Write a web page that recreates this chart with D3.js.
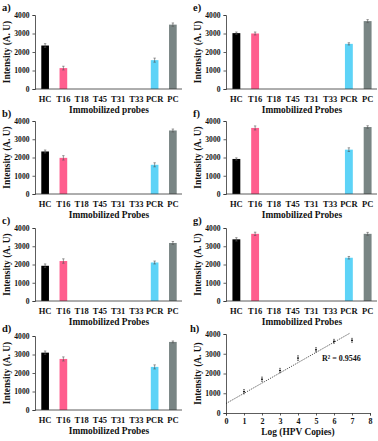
<!DOCTYPE html>
<html>
<head>
<meta charset="utf-8">
<script src="https://cdn.jsdelivr.net/npm/d3@7"></script>
<style>
  body { margin: 0; background: #fff; }
  svg text { font-family: "Liberation Serif", "Times New Roman", serif; font-weight: bold; }
</style>
</head>
<body>
<div id="chart"></div>
<script>
var categories = ["HC", "T16", "T18", "T45", "T31", "T33", "PCR", "PC"];
var yTicks = [0, 1000, 2000, 3000, 4000];

var valuesA = [2350, 1130, 0, 0, 0, 0, 1560, 3480];
var errorsA = [100, 100, 0, 0, 0, 0, 110, 90];
var valuesB = [2330, 1980, 0, 0, 0, 0, 1600, 3480];
var errorsB = [80, 120, 0, 0, 0, 0, 110, 80];
var valuesC = [1930, 2190, 0, 0, 0, 0, 2110, 3180];
var errorsC = [100, 120, 0, 0, 0, 0, 80, 80];
var valuesD = [3100, 2760, 0, 0, 0, 0, 2330, 3680];
var errorsD = [90, 110, 0, 0, 0, 0, 110, 50];
var valuesE = [3020, 3000, 0, 0, 0, 0, 2440, 3670];
var errorsE = [60, 80, 0, 0, 0, 0, 60, 80];
var valuesF = [1920, 3620, 0, 0, 0, 0, 2430, 3670];
var errorsF = [60, 110, 0, 0, 0, 0, 100, 70];
var valuesG = [3380, 3680, 0, 0, 0, 0, 2370, 3680];
var errorsG = [90, 90, 0, 0, 0, 0, 70, 80];

var copiesLog = [1, 2, 3, 4, 5, 6, 7];
var intensityH = [1080, 1710, 2150, 2780, 3200, 3630, 3680];
var errorsH = [110, 110, 110, 120, 110, 100, 100];
var xTicksH = [0, 1, 2, 3, 4, 5, 6, 7, 8];
var trendX = [0, 6.9];
var trendY = [480, 4050];
var r2Label = "R² = 0.9546";

var barColors = ["#000000", "#ff5e8e", "#000000", "#000000", "#000000", "#000000", "#5dd3f7", "#798584"];

var svg = d3.select("#chart").append("svg")
    .attr("width", 378)
    .attr("height", 441);

function yAxisParts(g, y, axisX, top, bottom, titleX) {
    var ax = g.append("g")
        .attr("transform", `translate(${axisX},0)`)
        .call(d3.axisLeft(y).tickValues(yTicks).tickFormat(d3.format("d")).tickSize(2.5).tickPadding(3));
    ax.select(".domain").attr("stroke", "#333").attr("stroke-width", 0.8);
    ax.selectAll(".tick line").attr("stroke", "#333").attr("stroke-width", 0.8);
    ax.selectAll("text").attr("font-size", "7.6px").attr("fill", "#111");

    g.append("text")
        .attr("transform", `translate(${titleX},${(top + bottom) / 2}) rotate(-90)`)
        .attr("text-anchor", "middle")
        .attr("dy", "0.35em")
        .attr("font-size", "9.4px")
        .attr("fill", "#111")
        .text("Intensity (A. U)");
}

function barPanel(label, values, errors, title, left, right, top, bottom) {
    var g = svg.append("g");
    var axisX = left - 1;

    var x = d3.scaleBand()
        .domain(categories)
        .range([left, right])
        .paddingInner(0.58)
        .paddingOuter(0.29);

    var y = d3.scaleLinear()
        .domain([0, 4000])
        .range([bottom, top]);

    var data = categories.map((c, i) => ({c: c, v: values[i], e: errors[i], col: barColors[i]}));

    g.selectAll("rect")
        .data(data.filter(d => d.v > 0))
        .enter().append("rect")
        .attr("x", d => x(d.c))
        .attr("width", x.bandwidth())
        .attr("y", d => y(d.v))
        .attr("height", d => bottom - y(d.v))
        .attr("fill", d => d.col);

    var errs = data.filter(d => d.e > 0);
    g.selectAll(".eb")
        .data(errs)
        .enter().append("path")
        .attr("d", d => {
            var cx = x(d.c) + x.bandwidth() / 2;
            var y1 = y(d.v + d.e), y2 = y(d.v - d.e);
            return `M${cx},${y1}V${y2}M${cx - 1.2},${y1}H${cx + 1.2}M${cx - 1.2},${y2}H${cx + 1.2}`;
        })
        .attr("stroke", "#555")
        .attr("stroke-width", 0.6)
        .attr("fill", "none");

    g.append("line")
        .attr("x1", axisX).attr("x2", right)
        .attr("y1", bottom).attr("y2", bottom)
        .attr("stroke", "#333").attr("stroke-width", 0.8);

    yAxisParts(g, y, axisX, top, bottom, axisX - 28);

    g.selectAll(".cat")
        .data(categories)
        .enter().append("text")
        .attr("x", d => x(d) + x.bandwidth() / 2)
        .attr("y", bottom + 13)
        .attr("text-anchor", "middle")
        .attr("font-size", "8.5px")
        .attr("fill", "#111")
        .text(d => d);

    g.append("text")
        .attr("x", (left + right) / 2)
        .attr("y", bottom + 24)
        .attr("text-anchor", "middle")
        .attr("font-size", "9.4px")
        .attr("fill", "#111")
        .text(title);

    g.append("text")
        .attr("x", left - 34)
        .attr("y", top - 4)
        .attr("font-size", "10.5px")
        .attr("fill", "#111")
        .text(label);
}

barPanel("a)", valuesA, errorsA, "Immobilized probes", 36, 182, 15, 89);
barPanel("b)", valuesB, errorsB, "Immobilized Probes", 36, 182, 121, 194);
barPanel("c)", valuesC, errorsC, "Immobilized Probes", 36, 182, 228, 301);
barPanel("d)", valuesD, errorsD, "Immobilized Probes", 36, 182, 336, 410);
barPanel("e)", valuesE, errorsE, "Immobilized Probes", 227, 377, 15, 89);
barPanel("f)", valuesF, errorsF, "Immobilized Probes", 227, 377, 121, 194);
barPanel("g)", valuesG, errorsG, "Immobilized Probes", 227, 377, 228, 301);

// panel h: calibration
(function () {
    var g = svg.append("g");
    var top = 334, bottom = 413, left = 226, right = 370;
    var x = d3.scaleLinear().domain([0, 8]).range([left, right]);
    var y = d3.scaleLinear().domain([0, 4000]).range([bottom, top]);

    var xa = g.append("g")
        .attr("transform", `translate(0,${bottom})`)
        .call(d3.axisBottom(x).tickValues(xTicksH).tickSize(2.5).tickPadding(3));
    xa.select(".domain").attr("stroke", "#333").attr("stroke-width", 0.8);
    xa.selectAll(".tick line").attr("stroke", "#333").attr("stroke-width", 0.8);
    xa.selectAll("text").attr("font-size", "8px").attr("fill", "#111");

    yAxisParts(g, y, left, top, bottom, left - 28);

    g.append("line")
        .attr("x1", x(trendX[0])).attr("y1", y(trendY[0]))
        .attr("x2", x(trendX[1])).attr("y2", y(trendY[1]))
        .attr("stroke", "#222")
        .attr("stroke-width", 0.9)
        .attr("stroke-dasharray", "1,1.2");

    var pts = copiesLog.map((c, i) => ({x: c, y: intensityH[i], e: errorsH[i]}));
    g.selectAll(".eb")
        .data(pts)
        .enter().append("path")
        .attr("d", d => {
            var cx = x(d.x), y1 = y(d.y + d.e), y2 = y(d.y - d.e);
            return `M${cx},${y1}V${y2}M${cx - 1},${y1}H${cx + 1}M${cx - 1},${y2}H${cx + 1}`;
        })
        .attr("stroke", "#444")
        .attr("stroke-width", 0.6)
        .attr("fill", "none");

    g.selectAll(".pt")
        .data(pts)
        .enter().append("rect")
        .attr("x", d => x(d.x) - 1)
        .attr("y", d => y(d.y) - 0.6)
        .attr("width", 2)
        .attr("height", 1.2)
        .attr("fill", "#111");

    g.append("text")
        .attr("x", 322)
        .attr("y", 361)
        .attr("font-size", "8px")
        .attr("fill", "#111")
        .text(r2Label);

    g.append("text")
        .attr("x", (left + right) / 2)
        .attr("y", bottom + 22)
        .attr("text-anchor", "middle")
        .attr("font-size", "9.4px")
        .attr("fill", "#111")
        .text("Log (HPV Copies)");

    g.append("text")
        .attr("x", left - 36)
        .attr("y", top - 2)
        .attr("font-size", "10.5px")
        .attr("fill", "#111")
        .text("h)");
})();
</script>
</body>
</html>
